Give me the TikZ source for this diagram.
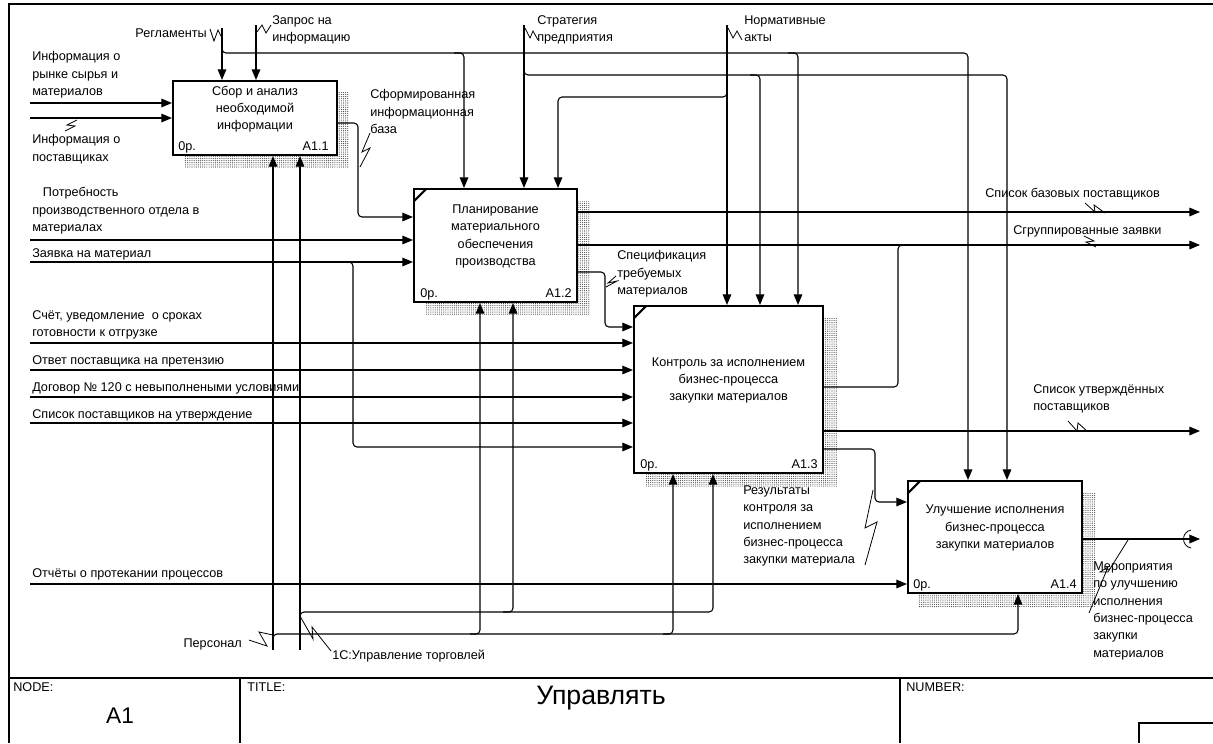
\documentclass[tikz,border=0pt]{standalone}
\usepackage{fontspec}
\setmainfont{Liberation Sans}
\usetikzlibrary{arrows.meta, fit, patterns.meta}
\tikzset{IdefDiagram/.style={
    x=0.75pt, y=-0.75pt,
    every node/.style = {inner sep=0pt, font=\fontsize{9.5}{13}\selectfont},
    fbox/.style = {draw, line width=1.6pt, fill=white, inner sep=0pt},
    shade/.style = {pattern={Dots[distance=1.6pt, radius=0.42pt]}, pattern color=black!75},
    link/.style = {line width=0.8pt, rounded corners=3pt},
    arr/.style = {link, -{Triangle[length=8pt,width=6.5pt]}},
    squig/.style = {line width=0.6pt},
    lbl/.style = {align=left, anchor=north west},
    btxt/.style = {align=center, yshift=6.75pt},
    cornermark/.style = {line width=1.6pt},
    frame/.style = {line width=1pt},
    big/.style = {font=\fontsize{17}{20}\selectfont}
}}

\begin{document}
\begin{tikzpicture}[IdefDiagram]
    \useasboundingbox (0,0) rectangle (1213,743);

    % shadows
    \fill[shade] (185,92) rectangle (349,167);
    \fill[shade] (426,201) rectangle (590,314);
    \fill[shade] (646,317) rectangle (837,486);
    \fill[shade] (918,492) rectangle (1095,607);

    % activity boxes
    \node[fbox, fit={(173,81) (337,155)}] (A11) {};
    \node[fbox, fit={(414,189) (577,302)}] (A12) {};
    \node[fbox, fit={(634,306) (823,473)}] (A13) {};
    \node[fbox, fit={(908,481) (1082,593)}] (A14) {};
    \draw[cornermark] (414,201) -- (426,189);
    \draw[cornermark] (634,318) -- (646,306);
    \draw[cornermark] (908,493) -- (920,481);

    \node[btxt] (A11t) at (A11) {Сбор и анализ\\необходимой\\информации};
    \node[btxt] (A12t) at (A12) {Планирование\\материального\\обеспечения\\производства};
    \node[btxt] (A13t) at (A13) {Контроль за исполнением\\бизнес-процесса\\закупки материалов};
    \node[btxt] (A14t) at (A14) {Улучшение исполнения\\бизнес-процесса\\закупки материалов};

    \node[anchor=base west] (A11c) at (178,150.5) {0р.};
    \node[anchor=base east] (A11n) at (329,150.5) {A1.1};
    \node[anchor=base west] (A12c) at (420,297.5) {0р.};
    \node[anchor=base east] (A12n) at (572,297.5) {A1.2};
    \node[anchor=base west] (A13c) at (640,468.5) {0р.};
    \node[anchor=base east] (A13n) at (818,468.5) {A1.3};
    \node[anchor=base west] (A14c) at (913,588.5) {0р.};
    \node[anchor=base east] (A14n) at (1077,588.5) {A1.4};

    % free ends
    \coordinate (reg) at (222,28);
    \coordinate (zap) at (256,25);
    \coordinate (str) at (524,25);
    \coordinate (nrm) at (727,25);
    \coordinate (in1) at (30,103);
    \coordinate (in2) at (30,118);
    \coordinate (in3) at (30,240);
    \coordinate (in4) at (30,262);
    \coordinate (in5) at (30,343);
    \coordinate (in6) at (30,370);
    \coordinate (in7) at (30,397);
    \coordinate (in8) at (30,423);
    \coordinate (in9) at (30,584);
    \coordinate (out1) at (1200,212);
    \coordinate (out2) at (1200,245);
    \coordinate (out3) at (1200,431);
    \coordinate (out4) at (1200,539);
    \coordinate (per) at (273,650);
    \coordinate (onec) at (300,650);

    % controls
    \draw[arr] (reg) -- (reg |- A11.north);
    \draw[arr] (222,45) -- (222,53) -- (968,53) -- (968,0 |- A14.north);
    \draw[arr] (454,53) -- (464,53) -- (464,0 |- A12.north);
    \draw[arr] (788,53) -- (798,53) -- (798,0 |- A13.north);
    \draw[arr] (zap) -- (zap |- A11.north);
    \draw[arr] (str) -- (str |- A12.north);
    \draw[arr] (524,65) -- (524,75) -- (1007,75) -- (1007,0 |- A14.north);
    \draw[arr] (750,75) -- (760,75) -- (760,0 |- A13.north);
    \draw[arr] (nrm) -- (nrm |- A13.north);
    \draw[arr] (727,87) -- (727,97) -- (558,97) -- (558,0 |- A12.north);

    % inputs
    \draw[arr] (in1) -- (in1 -| A11.west);
    \draw[arr] (in2) -- (in2 -| A11.west);
    \draw[arr] (in3) -- (in3 -| A12.west);
    \draw[arr] (in4) -- (in4 -| A12.west);
    \draw[arr] (343,262) -- (353,262) -- (353,447) -- (0,447 -| A13.west);
    \draw[arr] (in5) -- (in5 -| A13.west);
    \draw[arr] (in6) -- (in6 -| A13.west);
    \draw[arr] (in7) -- (in7 -| A13.west);
    \draw[arr] (in8) -- (in8 -| A13.west);
    \draw[arr] (in9) -- (in9 -| A14.west);

    % outputs
    \draw[arr] (A11.east |- 0,123) -- (358,123) -- (358,217) -- (0,217 -| A12.west);
    \draw[arr] (A12.east |- out1) -- (out1);
    \draw[arr] (A12.east |- out2) -- (out2);
    \draw[arr] (A12.east |- 0,272) -- (605,272) -- (605,327) -- (0,327 -| A13.west);
    \draw[link] (A13.east |- 0,387) -- (898,387) -- (898,245) -- (910,245);
    \draw[arr] (A13.east |- out3) -- (out3);
    \draw[arr] (A13.east |- 0,449) -- (875,449) -- (875,502) -- (0,502 -| A14.west);
    \draw[arr] (A14.east |- out4) -- (out4);
    \draw[squig] (1191,530) .. controls (1181,532) and (1181,546) .. (1191,548);

    % mechanisms
    \draw[arr] (per) -- (per |- A11.south);
    \draw[arr] (onec) -- (onec |- A11.south);
    \draw[arr] (273,644) -- (273,634) -- (1018,634) -- (1018,0 |- A14.south);
    \draw[arr] (470,634) -- (480,634) -- (480,0 |- A12.south);
    \draw[arr] (663,634) -- (673,634) -- (673,0 |- A13.south);
    \draw[arr] (300,622) -- (300,612) -- (713,612) -- (713,0 |- A13.south);
    \draw[arr] (503,612) -- (513,612) -- (513,0 |- A12.south);

    % arrow labels
    \node[anchor=base east] (regL) at (207,37.5) {Регламенты};
    \draw[squig] (210,29) -- (214,41) -- (218,30) -- (222,38);
    \node[lbl] (zapL) at (272,15.4) {Запрос на\\информацию};
    \draw[squig] (257,32) -- (262,25) -- (266,33) -- (271,25);
    \node[lbl] (strL) at (537,15.4) {Стратегия\\предприятия};
    \draw[squig] (525,28) -- (530,38) -- (533,31) -- (538,40);
    \node[lbl] (nrmL) at (744,15.4) {Нормативные\\акты};
    \draw[squig] (728,28) -- (733,38) -- (737,31) -- (742,40);

    \node[lbl] (in1L) at (32,51.4) {Информация о\\рынке сырья и\\материалов};
    \node[lbl] (in2L) at (32,134.4) {Информация о\\поставщиках};
    \draw[squig] (77,120) -- (67,125) -- (75,126) -- (65,131);
    \node[lbl] (in3L) at (32,187.4) {\hspace*{8pt}Потребность\\производственного отдела в\\материалах};
    \node[anchor=base west] (in4L) at (32,257) {Заявка на материал};
    \node[lbl] (in5L) at (32,310) {Счёт, уведомление \ о сроках\\готовности к отгрузке};
    \node[anchor=base west] (in6L) at (32,364.5) {Ответ поставщика на претензию};
    \node[anchor=base west] (in7L) at (32,391.5) {Договор № 120 с невыполнеными условиями};
    \node[anchor=base west] (in8L) at (32,418.5) {Список поставщиков на утверждение};
    \node[anchor=base west] (in9L) at (32,577.5) {Отчёты о протекании процессов};

    \node[lbl] (o11L) at (370,89.4) {Сформированная\\информационная\\база};
    \draw[squig] (360,167) -- (370,148) -- (362,152) -- (370,133);
    \node[lbl] (o12L) at (617,250.4) {Спецификация\\требуемых\\материалов};
    \draw[squig] (606,287) -- (617,281) -- (608,283) -- (616,276);
    \node[anchor=base west] (out1L) at (985,197.5) {Список базовых поставщиков};
    \draw[squig] (1085,203) -- (1095,212) -- (1094,205) -- (1105,213);
    \node[anchor=base west] (out2L) at (1013,234.5) {Сгруппированные заявки};
    \draw[squig] (1084,236) -- (1094,241) -- (1086,242) -- (1096,247);
    \node[lbl] (out3L) at (1033,384.4) {Список утверждённых\\поставщиков};
    \draw[squig] (1068,421) -- (1077,431) -- (1078,423) -- (1087,431);
    \node[lbl] (o13L) at (743,485.4) {Результаты\\контроля за\\исполнением\\бизнес-процесса\\закупки материала};
    \draw[squig] (865,565) -- (877,522) -- (865,528) -- (873,490);
    \node[lbl] (out4L) at (1093,561.4) {Мероприятия\\по улучшению\\исполнения\\бизнес-процесса\\закупки\\материалов};
    \draw[squig] (1128,540) -- (1108,572) -- (1100,572) -- (1108,567) -- (1089,613);

    \node[anchor=base east] (perL) at (242,647.5) {Персонал};
    \draw[squig] (249,640) -- (267,646) -- (259,632) -- (273,635);
    \node[anchor=base west] (onecL) at (332,659.5) {1С:Управление торговлей};
    \draw[squig] (300,616) -- (313,639) -- (312,627) -- (331,651);

    % frame and title block
    \draw[frame] (9,743) -- (9,4) -- (1213,4);
    \draw[frame] (9,678) -- (1213,678);
    \draw[frame] (240,678) -- (240,743);
    \draw[frame] (900,678) -- (900,743);
    \draw[frame] (1139,743) -- (1139,723) -- (1213,723);
    \node[anchor=base west] (nodeL) at (13,691.5) {NODE:};
    \node[anchor=base west] (titleL) at (247,691.5) {TITLE:};
    \node[anchor=base west] (numL) at (906,691.5) {NUMBER:};
    \node[big] (nodeV) at (120,716) {A1};
    \node[big, font=\fontsize{20}{24}\selectfont] (titleV) at (601,698) {Управлять};
\end{tikzpicture}
\end{document}
